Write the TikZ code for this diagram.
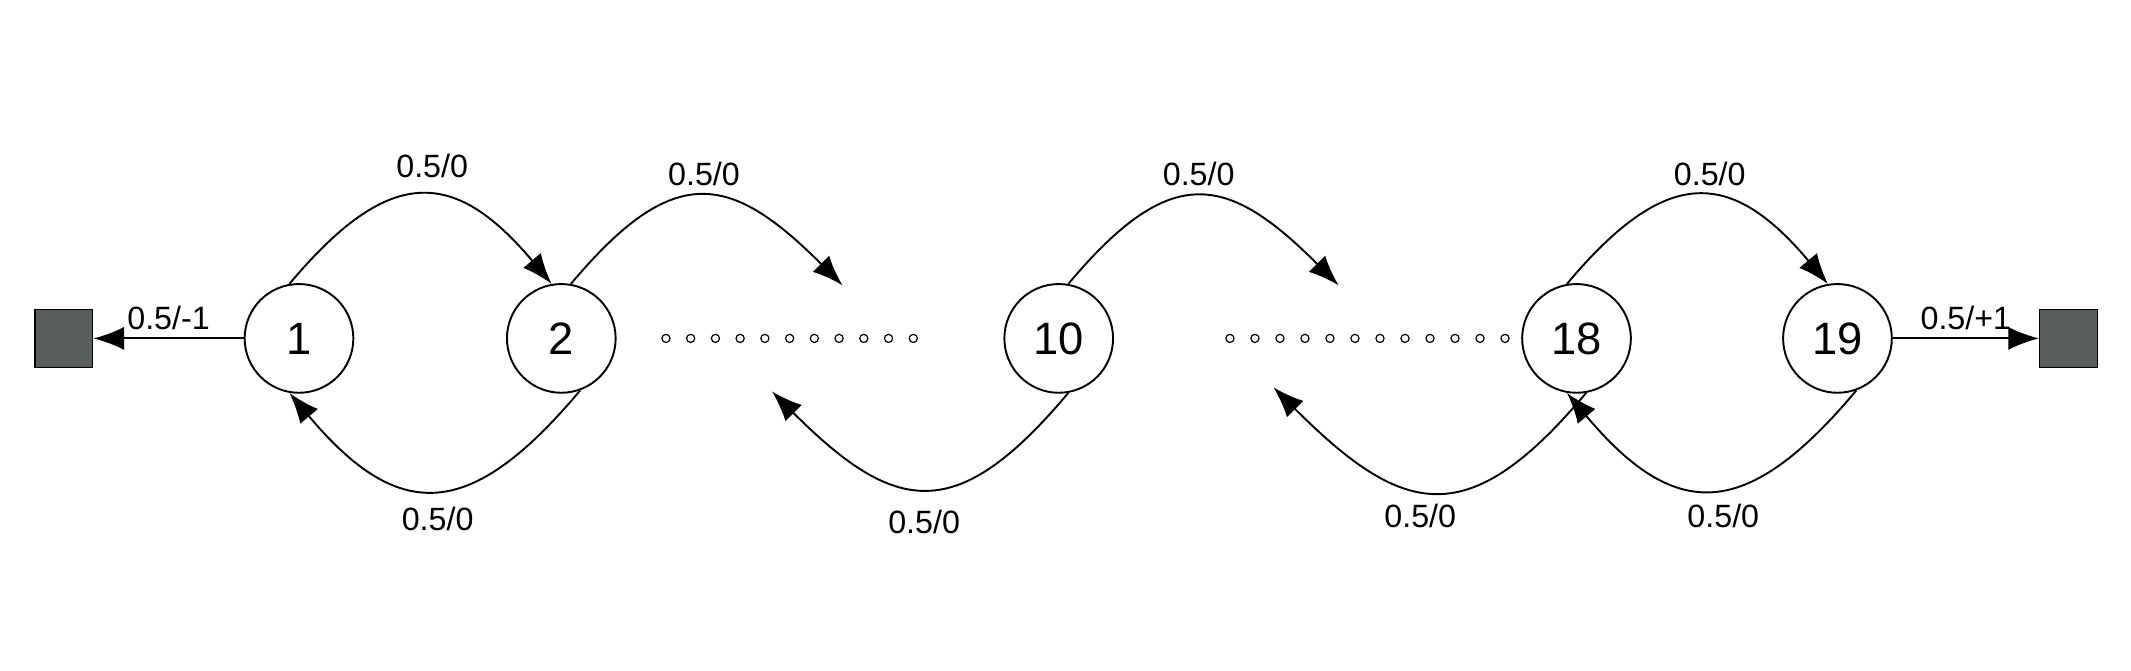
\documentclass[tikz,border=0pt]{standalone}
\usepackage{fontspec}
\setmainfont{Liberation Sans}
\usetikzlibrary{arrows.meta}
\definecolor{termgray}{RGB}{88,94,94}
\begin{document}
\begin{tikzpicture}[x=0.02cm,y=-0.02cm,
  state/.style={draw,circle,line width=0.8pt,minimum size=1.6cm,inner sep=0pt,font=\fontsize{19}{21}\selectfont},
  term/.style={draw,fill=termgray,line width=0.6pt,minimum size=0.85cm,inner sep=0pt},
  lbl/.style={font=\fontsize{13.5}{15}\selectfont},
  arc/.style={line width=0.8pt,-{Latex[length=0.45cm,width=0.34cm]}},
  dot/.style={draw,circle,line width=0.5pt,inner sep=0pt,minimum size=0.12cm}]
  \useasboundingbox (0,0) rectangle (1568,493);
  \node[term] (tl) at (47,249) {};
  \node[term] (tr) at (1522,249) {};
  \node[state] (s1) at (220,249) {1};
  \node[state] (s2) at (413,249) {2};
  \node[state] (s10) at (779,249) {10};
  \node[state] (s18) at (1160,249) {18};
  \node[state] (s19) at (1352,249) {19};
  \coordinate (e2) at (620,210);
  \coordinate (e10) at (985,210);
  \coordinate (w10) at (568,288);
  \coordinate (w18) at (937,285);
  \foreach \i in {0,...,10} \node[dot] at (490+\i*18.2,249) {};
  \foreach \i in {0,...,11} \node[dot] at (905+\i*18.4,249) {};
  % straight ends
  \draw[arc] (s1) -- (tl) node[lbl,midway,above] {0.5/-1};
  \draw[arc] (s19) -- (tr) node[lbl,midway,above] {0.5/+1};
  % upper arcs
  \draw[arc] (s1.100) to[out=50,in=130,looseness=1.5] (s2.100);
  \draw[arc] (s2.80) to[out=50,in=135,looseness=1.5] (e2);
  \draw[arc] (s10.80) to[out=50,in=135,looseness=1.5] (e10);
  \draw[arc] (s18.100) to[out=50,in=130,looseness=1.5] (s19.100);
  \node[lbl] at (318,122) {0.5/0};
  \node[lbl] at (518,128) {0.5/0};
  \node[lbl] at (882,128) {0.5/0};
  \node[lbl] at (1258,128) {0.5/0};
  % lower arcs
  \draw[arc] (s2.290) to[out=-130,in=-50,looseness=1.5] (s1.260);
  \draw[arc] (s10.280) to[out=-130,in=-45,looseness=1.5] (w10);
  \draw[arc] (s18.280) to[out=-130,in=-45,looseness=1.5] (w18);
  \draw[arc] (s19.290) to[out=-130,in=-50,looseness=1.5] (s18.260);
  \node[lbl] at (322,382) {0.5/0};
  \node[lbl] at (680,384) {0.5/0};
  \node[lbl] at (1045,380) {0.5/0};
  \node[lbl] at (1268,380) {0.5/0};
\end{tikzpicture}
\end{document}
